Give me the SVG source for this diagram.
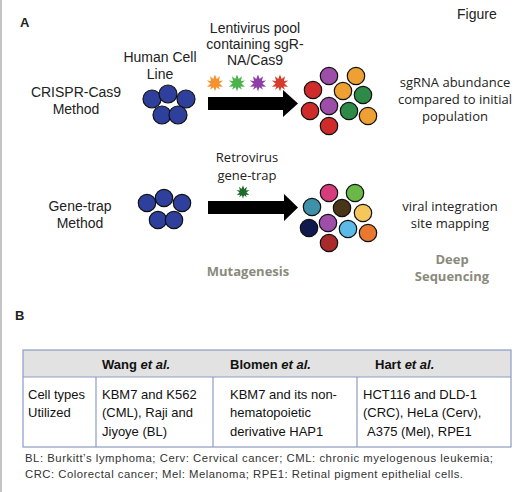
<svg xmlns="http://www.w3.org/2000/svg" width="520" height="492" viewBox="0 0 520 492">
<style>
.a{font-family:"Liberation Sans",Arial,sans-serif;font-size:14px;fill:#222}
.o{font-family:"Open Sans","Liberation Sans",sans-serif;font-size:13px;fill:#222}
.ob{font-family:"Open Sans","Liberation Sans",sans-serif;font-size:13px;font-weight:bold;fill:#8a8a7c}
.t{font-family:"Liberation Sans",Arial,sans-serif;font-size:13px;fill:#111}
.th{font-family:"Liberation Sans",Arial,sans-serif;font-size:13px;font-weight:bold;fill:#111}
.fn{font-family:"Liberation Sans",Arial,sans-serif;font-size:11.3px;fill:#333}
.c circle{stroke:#111;stroke-width:1.2}
.blue circle{fill:#2e3f9c}
.tb{fill:none;stroke:#8e9cc4;stroke-width:1.2}
</style>
<defs>
<polygon id="star" points="0,-8.5 1.7,-4 5,-6.8 3.9,-2 8.2,-2.6 4.4,0.6 8,3.8 3.5,3.4 5,6.8 1.3,4.3 0,8.5 -1.4,4.3 -5,6.8 -3.6,3.4 -8,3.8 -4.4,0.6 -8.2,-2.6 -4,-1.9 -5,-6.8 -1.8,-4"/>
</defs>
<line x1="1" y1="0" x2="1" y2="492" stroke="#c4c4c4" stroke-width="2"/>
<text x="20" y="27" class="a" style="font-weight:bold;font-size:13px">A</text>
<text x="457" y="19" class="a">Figure</text>

<g id="crispr-label"><text class="a" text-anchor="middle"><tspan x="76" y="97">CRISPR-Cas9</tspan><tspan x="76" y="114">Method</tspan></text></g>
<g id="human-cell-line"><text class="a" text-anchor="middle"><tspan x="160" y="62">Human Cell</tspan><tspan x="160" y="79">Line</tspan></text></g>
<g id="cells-top" class="c blue">
<circle cx="152" cy="99" r="9"/><circle cx="168" cy="94" r="9"/><circle cx="186" cy="99" r="9"/><circle cx="162" cy="115" r="9"/><circle cx="178" cy="115" r="9"/>
</g>
<g id="lentivirus"><text class="a" text-anchor="middle"><tspan x="255" y="33">Lentivirus pool</tspan><tspan x="255" y="49">containing sgR-</tspan><tspan x="255" y="65">NA/Cas9</tspan></text>
<use href="#star" x="215" y="83" fill="#f3922e"/><use href="#star" x="237" y="83" fill="#4cb34c"/><use href="#star" x="258" y="83" fill="#8c3fa6"/><use href="#star" x="280" y="83" fill="#d63c2c"/>
</g>
<g id="mutants-top" class="c">
<circle cx="313" cy="90" r="8.7" fill="#cf2b2b"/><circle cx="329" cy="76" r="8.7" fill="#9c4ea8"/><circle cx="356" cy="76" r="8.7" fill="#eea033"/><circle cx="343" cy="91" r="8.7" fill="#eea033"/><circle cx="363" cy="95" r="8.7" fill="#2d8b47"/><circle cx="310" cy="111" r="8.7" fill="#cf2b2b"/><circle cx="329" cy="106" r="8.7" fill="#9c4ea8"/><circle cx="349" cy="111" r="8.7" fill="#2d8b47"/><circle cx="368" cy="116" r="8.7" fill="#eea033"/><circle cx="329" cy="126" r="8.7" fill="#cf2b2b"/>
</g>
<g id="sgrna"><text class="o" text-anchor="middle"><tspan x="455" y="87">sgRNA abundance</tspan><tspan x="455" y="104">compared to initial</tspan><tspan x="455" y="121">population</tspan></text></g>

<g id="genetrap-label"><text class="a" text-anchor="middle"><tspan x="80" y="211">Gene-trap</tspan><tspan x="80" y="228">Method</tspan></text></g>
<g id="cells-bottom" class="c blue">
<circle cx="147" cy="203" r="8.7"/><circle cx="164" cy="198" r="8.7"/><circle cx="182" cy="203" r="8.7"/><circle cx="158" cy="220" r="8.7"/><circle cx="174" cy="220" r="8.7"/>
</g>
<g id="retrovirus"><text class="o" text-anchor="middle"><tspan x="247" y="162">Retrovirus</tspan><tspan x="247" y="180">gene-trap</tspan></text>
<use href="#star" transform="translate(243,192) scale(0.78)" fill="#1d6a2b"/>
</g>
<g id="mutants-bottom" class="c">
<circle cx="329" cy="193" r="8.7" fill="#d63b7c"/><circle cx="355" cy="193" r="8.7" fill="#6ab74a"/><circle cx="312" cy="207" r="8.7" fill="#3f90a9"/><circle cx="342" cy="208" r="8.7" fill="#4a3519"/><circle cx="363" cy="213" r="8.7" fill="#f4c65c"/><circle cx="309" cy="228" r="8.7" fill="#111a4e"/><circle cx="328" cy="223" r="8.7" fill="#9c4ea8"/><circle cx="348" cy="229" r="8.7" fill="#5cbbe6"/><circle cx="368" cy="233" r="8.7" fill="#e8782f"/><circle cx="329" cy="243" r="8.7" fill="#a82a2a"/>
</g>
<g id="viral"><text class="o" text-anchor="middle"><tspan x="450" y="211">viral integration</tspan><tspan x="450" y="228">site mapping</tspan></text></g>
<g id="mutagenesis"><text x="248" y="276" class="ob" text-anchor="middle">Mutagenesis</text></g>
<g id="deepseq"><text class="ob" text-anchor="middle"><tspan x="452" y="264">Deep</tspan><tspan x="452" y="281">Sequencing</tspan></text></g>

<g id="connectors" fill="#000">
<polygon points="208,97 283,97 283,90 298,103.5 283,117 283,110 208,110"/>
<polygon points="208,201 284,201 284,194 298,207.5 284,221 284,214 208,214"/>
</g>

<text x="15" y="320" class="a" style="font-weight:bold;font-size:13px">B</text>
<g id="table">
<rect x="23" y="350" width="488" height="27" fill="#e2e2e2"/>
<rect x="23" y="350" width="488" height="97" class="tb"/>
<line x1="23" y1="377" x2="511" y2="377" class="tb"/>
<line x1="96" y1="377" x2="96" y2="447" class="tb"/>
<line x1="213" y1="377" x2="213" y2="447" class="tb"/>
<line x1="357" y1="377" x2="357" y2="447" class="tb"/>
<text x="102" y="369" class="th">Wang <tspan font-style="italic">et al.</tspan></text>
<text x="230" y="369" class="th">Blomen <tspan font-style="italic">et al.</tspan></text>
<text x="375" y="369" class="th">Hart <tspan font-style="italic">et al.</tspan></text>
<text class="t"><tspan x="28" y="399">Cell types</tspan><tspan x="28" y="417">Utilized</tspan></text>
<text class="t"><tspan x="102" y="399">KBM7 and K562</tspan><tspan x="102" y="417">(CML), Raji and</tspan><tspan x="102" y="436">Jiyoye (BL)</tspan></text>
<text class="t"><tspan x="230" y="399">KBM7 and its non-</tspan><tspan x="230" y="417">hematopoietic</tspan><tspan x="230" y="436">derivative HAP1</tspan></text>
<text class="t"><tspan x="363" y="399">HCT116 and DLD-1</tspan><tspan x="363" y="417">(CRC), HeLa (Cerv),</tspan><tspan x="367" y="436">A375 (Mel), RPE1</tspan></text>
</g>
<g id="footnote">
<text x="25" y="462" class="fn" textLength="468">BL: Burkitt’s lymphoma; Cerv: Cervical cancer; CML: chronic myelogenous leukemia;</text>
<text x="25" y="478" class="fn" textLength="438">CRC: Colorectal cancer; Mel: Melanoma; RPE1: Retinal pigment epithelial cells.</text>
</g>
</svg>
